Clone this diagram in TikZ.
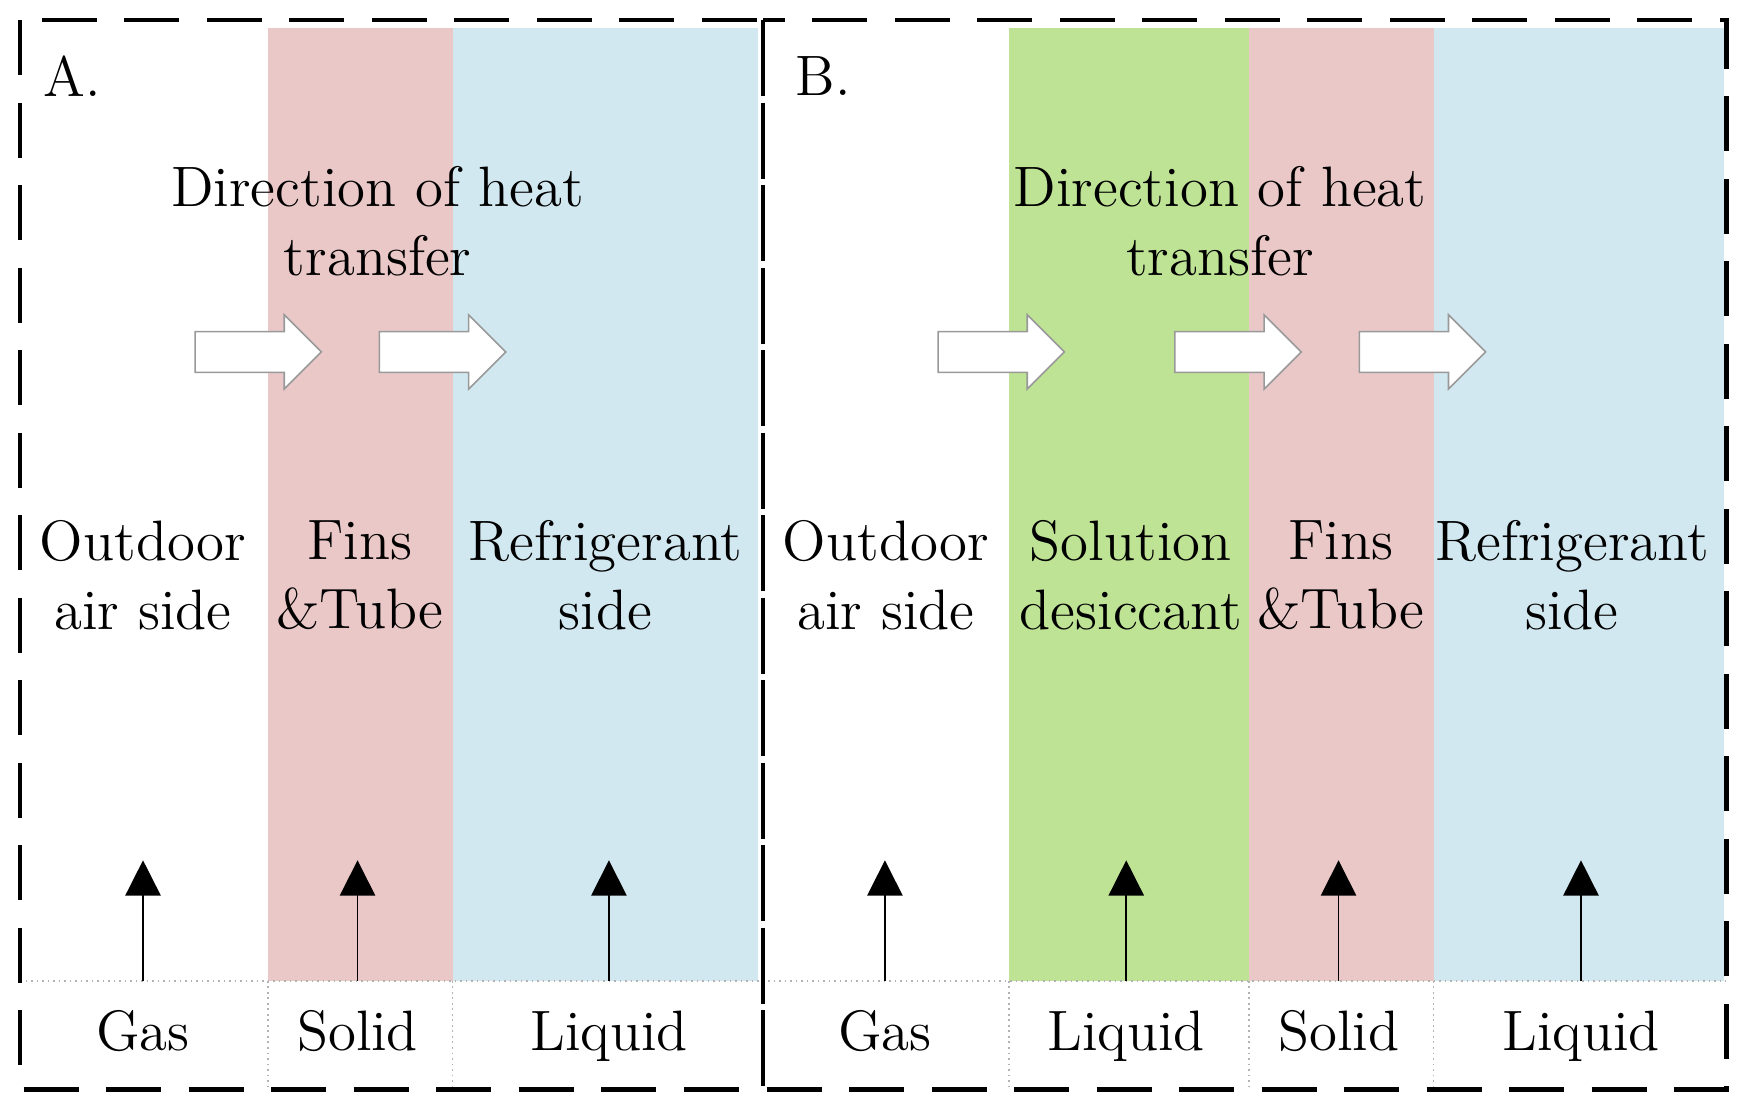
\documentclass[tikz,border=0pt]{standalone}
\usepackage{tikz}
\usetikzlibrary{shapes.arrows, arrows.meta}
\definecolor{finPink}{HTML}{EBC8C8}
\definecolor{refBlue}{HTML}{D2E8F0}
\definecolor{solGreen}{HTML}{BEE395}

\begin{document}
\begin{tikzpicture}[x=0.01cm, y=-0.01cm]
  \tikzstyle{label}=[font=\fontsize{14.5}{17.5}\selectfont, align=center]
  \tikzstyle{heat}=[single arrow, draw=black!40, fill=white, minimum width=0.65cm,
    single arrow head extend=0.15cm, minimum height=1.13cm, inner xsep=0pt, inner ysep=0.175cm]
  \tikzstyle{phase}=[->, >={Triangle[length=9pt, width=9pt]}, thin]
  \tikzstyle{sep}=[densely dotted, black!30, thin]
  \useasboundingbox (0,0) rectangle (1560,992);

  % coloured layers
  \fill[finPink] (240,25) rectangle (405,878);
  \fill[refBlue] (405,25) rectangle (678,878);
  \fill[solGreen] (903,25) rectangle (1118,878);
  \fill[finPink] (1118,25) rectangle (1283,878);
  \fill[refBlue] (1283,25) rectangle (1543,878);

  % separators
  \draw[sep] (18,878) -- (1545,878);
  \foreach \x in {240,405,903,1118,1283}
    \draw[sep] (\x,878) -- (\x,975);

  % dashed frames
  \draw[very thick, dash pattern=on 14pt off 7pt] (18,18) rectangle (683,975);
  \draw[very thick, dash pattern=on 14pt off 7pt] (683,18) rectangle (1545,975);

  \node[label] (tagA) at (65,68) {A.};
  \node[label] (tagB) at (737,68) {B.};
  \node[label] (dirA) at (338,198) {Direction of heat\\transfer};
  \node[label] (dirB) at (1092,198) {Direction of heat\\transfer};

  % heat arrows
  \foreach \x [count=\i] in {222,387,887,1099,1264}
    \node[heat] (H-\i) at (\x,315) {};

  % layer names
  \foreach \x/\t [count=\i] in {128/Outdoor\\air side, 322/Fins\\\&Tube, 542/Refrigerant\\side,
      793/Outdoor\\air side, 1012/Solution\\desiccant, 1200/Fins\\\&Tube, 1407/Refrigerant\\side}
    \node[label] (L-\i) at (\x,515) {\t};

  % phases
  \foreach \x/\p [count=\i] in {128/Gas, 320/Solid, 545/Liquid, 792/Gas, 1008/Liquid, 1198/Solid, 1415/Liquid}
  {
    \node[label, anchor=base] (P-\i) at (\x,940) {\p};
    \coordinate (B-\i) at (\x,878);
    \coordinate (T-\i) at (\x,770);
    \draw[phase] (B-\i) -- (T-\i);
  }
\end{tikzpicture}
\end{document}
